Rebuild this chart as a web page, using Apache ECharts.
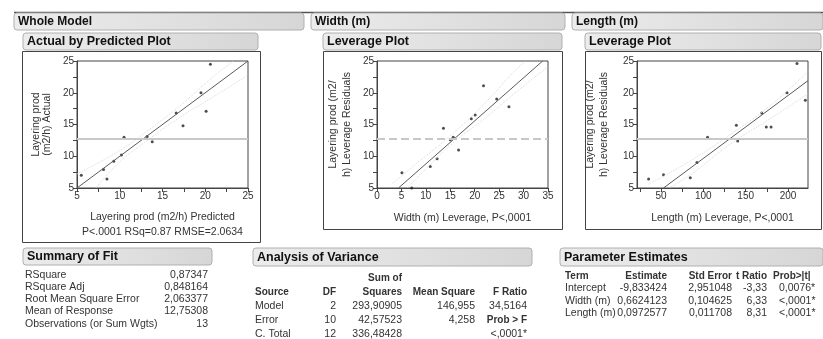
<!DOCTYPE html>
<html>
<head>
<meta charset="utf-8">
<script src="https://cdn.jsdelivr.net/npm/echarts@6/dist/echarts.min.js"></script>
<style>
html, body { margin: 0; padding: 0; background: #fff; }
#main { width: 823px; height: 339px; }
</style>
</head>
<body>
<div id="main"></div>
<script>
// 响应均值
var meanResponse = 12.75308;

// Actual by Predicted: [predicted, actual]
var actPredPoints = [[5.5, 7.0], [8.1, 7.9], [8.5, 6.4], [9.3, 9.2], [10.2, 10.2], [10.5, 13.0], [13.2, 13.1],
	[13.8, 12.3], [16.6, 16.8], [17.4, 14.8], [19.5, 20.0], [20.1, 17.1], [20.6, 24.5]];
var actPredFit = [[5, 5], [25, 25]];
var actPredUpper = [[5, 7.2], [10, 10.9], [12.75, 13.5], [17, 17.9], [21, 22.6], [23.3, 25]];
var actPredLower = [[7.2, 5], [10, 9.1], [12.75, 12.0], [17, 16.1], [21, 19.4], [25, 22.8]];

// Width (m) leverage
var widthPoints = [[5.1, 7.4], [7.1, 5.0], [10.9, 8.4], [12.3, 9.6], [13.6, 14.4], [15.0, 12.6], [15.6, 13.0],
	[16.7, 11.0], [19.3, 15.9], [20.1, 16.5], [21.8, 21.1], [24.5, 19.0], [27.0, 17.8]];
var widthFit = [[4.4, 5.0], [33.9, 25.0]];
var widthUpper = [[3, 5.6], [8, 8.8], [15.4, 13.5], [22, 18.3], [28, 23.3], [30.5, 25]];
var widthLower = [[6.2, 5], [10, 8.0], [15.4, 12.0], [22, 15.9], [28, 19.8], [35, 24.1]];

// Length (m) leverage
var lengthPoints = [[35.4, 6.4], [53, 7.1], [84.6, 6.6], [92.5, 9.0], [105, 13.0], [139, 14.9], [140.6, 12.4],
	[169, 16.8], [174.4, 14.6], [180, 14.6], [198.8, 20.0], [210.6, 24.6], [220.5, 18.8]];
var lengthFit = [[53, 5.0], [223.6, 21.9]];
var lengthUpper = [[35, 5.6], [80, 8.9], [132.7, 13.5], [180, 18.1], [224, 23.4]];
var lengthLower = [[60, 5.0], [90, 7.6], [132.7, 12.0], [180, 16.0], [224, 19.9]];
var lengthTicks = [25, 50, 75, 100, 125, 150, 175, 200];
var lengthLabels = [50, 100, 150, 200];

// Summary of Fit
var fitLabels = ['RSquare', 'RSquare Adj', 'Root Mean Square Error', 'Mean of Response', 'Observations (or Sum Wgts)'];
var fitValues = ['0,87347', '0,848164', '2,063377', '12,75308', '13'];

// Analysis of Variance
var anovaSource = ['Model', 'Error', 'C. Total'];
var anovaDF = ['2', '10', '12'];
var anovaSS = ['293,90905', '42,57523', '336,48428'];
var anovaMS = ['146,955', '4,258', ''];
var anovaF = ['34,5164', 'Prob > F', '<,0001*'];

// Parameter Estimates
var peTerm = ['Intercept', 'Width (m)', 'Length (m)'];
var peEstimate = ['-9,833424', '0,6624123', '0,0972577'];
var peStdErr = ['2,951048', '0,104625', '0,011708'];
var peT = ['-3,33', '6,33', '8,31'];
var peProb = ['0,0076*', '<,0001*', '<,0001*'];

var FONT = '"Liberation Sans", Arial, sans-serif';
var TXT = '#333';

function txt(str, x, y, opt) {
	opt = opt || {};
	var a = opt.align || 'left';
	return {
		type: 'text',
		silent: true,
		style: {
			text: str, x: x, y: y,
			fill: opt.color || TXT,
			font: (opt.bold ? 'bold ' : '') + (opt.size || 10.5) + 'px ' + FONT,
			align: a, textAlign: a,
			verticalAlign: 'middle', textVerticalAlign: 'middle'
		}
	};
}

function headerBar(str, x, y, w, h, size) {
	return [{
		type: 'rect',
		silent: true,
		shape: { x: x, y: y, width: w, height: h, r: 3 },
		style: {
			fill: new echarts.graphic.LinearGradient(0, 0, 1, 0, [
				{ offset: 0, color: '#ececec' },
				{ offset: 1, color: '#d6d6d6' }
			]),
			stroke: '#b0b0b0',
			lineWidth: 1
		}
	}, txt(str, x + 4, y + h / 2 + 0.5, { bold: true, size: size || 12.5, color: '#111' })];
}

function frame(x, y, w, h) {
	return {
		type: 'rect',
		silent: true,
		shape: { x: x, y: y, width: w, height: h },
		style: { fill: 'none', stroke: '#444', lineWidth: 1 }
	};
}

function buildGraphics() {
	var g = [];
	// 顶部分隔线
	g.push({ type: 'line', silent: true, shape: { x1: 14, y1: 12.5, x2: 823, y2: 12.5 }, style: { stroke: '#555', lineWidth: 1.5 } });
	g = g.concat(headerBar('Whole Model', 14, 13, 290, 17, 12));
	g = g.concat(headerBar('Width (m)', 311, 13, 254, 17, 12));
	g = g.concat(headerBar('Length (m)', 572, 13, 251, 17, 12));
	g = g.concat(headerBar('Actual by Predicted Plot', 23, 33, 235, 17));
	g = g.concat(headerBar('Leverage Plot', 323, 33, 239, 17));
	g = g.concat(headerBar('Leverage Plot', 585, 33, 236, 17));
	g.push(frame(22.5, 51.5, 238, 191));
	g.push(frame(323.5, 51.5, 239, 178));
	g.push(frame(585.5, 51.5, 236, 178));

	// Summary of Fit
	g = g.concat(headerBar('Summary of Fit', 23, 248, 189, 17));
	for (var i = 0; i < fitLabels.length; i++) {
		var y = 275 + i * 12.2;
		g.push(txt(fitLabels[i], 25, y));
		g.push(txt(fitValues[i], 208, y, { align: 'right' }));
	}

	// Analysis of Variance
	g = g.concat(headerBar('Analysis of Variance', 253, 248, 279, 18));
	g.push(txt('Sum of', 402, 278, { align: 'right', bold: true, size: 10 }));
	g.push(txt('Source', 255, 292, { bold: true, size: 10 }));
	g.push(txt('DF', 336, 292, { align: 'right', bold: true, size: 10 }));
	g.push(txt('Squares', 402, 292, { align: 'right', bold: true, size: 10 }));
	g.push(txt('Mean Square', 475, 292, { align: 'right', bold: true, size: 10 }));
	g.push(txt('F Ratio', 527, 292, { align: 'right', bold: true, size: 10 }));
	for (var j = 0; j < anovaSource.length; j++) {
		var yy = 306 + j * 14;
		g.push(txt(anovaSource[j], 255, yy));
		g.push(txt(anovaDF[j], 336, yy, { align: 'right' }));
		g.push(txt(anovaSS[j], 402, yy, { align: 'right' }));
		g.push(txt(anovaMS[j], 475, yy, { align: 'right' }));
		g.push(txt(anovaF[j], 527, yy, { align: 'right', bold: j === 1, size: j === 1 ? 10 : 10.5 }));
	}

	// Parameter Estimates
	g = g.concat(headerBar('Parameter Estimates', 560, 248, 263, 18));
	g.push(txt('Term', 565, 276, { bold: true, size: 10 }));
	g.push(txt('Estimate', 667, 276, { align: 'right', bold: true, size: 10 }));
	g.push(txt('Std Error', 732, 276, { align: 'right', bold: true, size: 10 }));
	g.push(txt('t Ratio', 767, 276, { align: 'right', bold: true, size: 10 }));
	g.push(txt('Prob>|t|', 773, 276, { bold: true, size: 10 }));
	for (var k = 0; k < peTerm.length; k++) {
		var y3 = 288.5 + k * 12.5;
		g.push(txt(peTerm[k], 565, y3));
		g.push(txt(peEstimate[k], 667, y3, { align: 'right' }));
		g.push(txt(peStdErr[k], 732, y3, { align: 'right' }));
		g.push(txt(peT[k], 767, y3, { align: 'right' }));
		g.push(txt(peProb[k], 779, y3));
	}
	return g;
}

var axisLineStyle = { lineStyle: { color: '#444', width: 1 } };
var tickStyle = { show: true, length: 4, lineStyle: { color: '#444' } };
var labelStyle = { fontSize: 10, color: TXT, fontFamily: FONT, margin: 3 };
var nameStyle = { fontSize: 10.5, color: TXT, fontFamily: FONT };

function fiveOnly(v) {
	return v % 5 === 0 ? String(v) : '';
}

function makeX(idx, min, max, interval, name, gap) {
	return {
		gridIndex: idx, type: 'value', min: min, max: max, interval: interval,
		axisLine: axisLineStyle, axisTick: tickStyle,
		axisLabel: Object.assign({ formatter: fiveOnly }, labelStyle),
		splitLine: { show: false },
		name: name, nameLocation: 'middle', nameGap: gap,
		nameTextStyle: Object.assign({ lineHeight: 15 }, nameStyle)
	};
}

function makeY(idx, name, gap, lh) {
	return {
		gridIndex: idx, type: 'value', min: 5, max: 25, interval: 2.5,
		axisLine: axisLineStyle, axisTick: tickStyle,
		axisLabel: Object.assign({ formatter: fiveOnly }, labelStyle),
		splitLine: { show: false },
		name: name, nameLocation: 'middle', nameGap: gap, nameRotate: 90,
		nameTextStyle: Object.assign({ lineHeight: lh }, nameStyle)
	};
}

function plotSeries(idx, points, fit, upper, lower, meanType) {
	return [{
		type: 'line', xAxisIndex: idx, yAxisIndex: idx, data: upper, smooth: true,
		showSymbol: false, silent: true, lineStyle: { color: '#dadada', width: 1, type: 'dotted' }
	}, {
		type: 'line', xAxisIndex: idx, yAxisIndex: idx, data: lower, smooth: true,
		showSymbol: false, silent: true, lineStyle: { color: '#dadada', width: 1, type: 'dotted' }
	}, {
		type: 'line', xAxisIndex: idx, yAxisIndex: idx, data: fit,
		showSymbol: false, silent: true, lineStyle: { color: '#5a5a5a', width: 1 }
	}, {
		type: 'scatter', xAxisIndex: idx, yAxisIndex: idx, data: points,
		symbol: 'circle', symbolSize: 3, itemStyle: { color: '#222' },
		markLine: {
			silent: true, symbol: 'none', label: { show: false },
			lineStyle: { color: '#c8c8c8', width: 2, type: meanType },
			data: [{ yAxis: meanResponse }]
		}
	}];
}

var lengthX = makeX(2, 21.7, 223.6, null, 'Length (m) Leverage, P<,0001', 23);
delete lengthX.interval;
lengthX.axisTick = Object.assign({ customValues: lengthTicks }, tickStyle);
lengthX.axisLabel = Object.assign({ customValues: lengthLabels }, labelStyle);

var option = {
	animation: false,
	backgroundColor: '#fff',
	textStyle: { fontFamily: FONT },
	grid: [
		{ left: 77, top: 61, width: 171, height: 127, show: true, borderColor: '#444', borderWidth: 1 },
		{ left: 377, top: 61, width: 171, height: 127, show: true, borderColor: '#444', borderWidth: 1 },
		{ left: 637, top: 61, width: 171, height: 127, show: true, borderColor: '#444', borderWidth: 1 }
	],
	xAxis: [
		makeX(0, 5, 25, 2.5, 'Layering prod (m2/h) Predicted\nP<.0001 RSq=0.87 RMSE=2.0634', 22),
		makeX(1, 0, 35, 5, 'Width (m) Leverage, P<,0001', 23),
		lengthX
	],
	yAxis: [
		makeY(0, 'Layering prod\n(m2/h) Actual', 24, 11),
		makeY(1, 'Layering prod (m2/\nh) Leverage Residuals', 23, 14),
		makeY(2, 'Layering prod (m2/\nh) Leverage Residuals', 26, 14)
	],
	series: [].concat(
		plotSeries(0, actPredPoints, actPredFit, actPredUpper, actPredLower, 'solid'),
		plotSeries(1, widthPoints, widthFit, widthUpper, widthLower, 'dashed'),
		plotSeries(2, lengthPoints, lengthFit, lengthUpper, lengthLower, 'solid')
	),
	graphic: { elements: buildGraphics() }
};

var myChart = echarts.init(document.getElementById('main'));
myChart.setOption(option);
</script>
</body>
</html>
